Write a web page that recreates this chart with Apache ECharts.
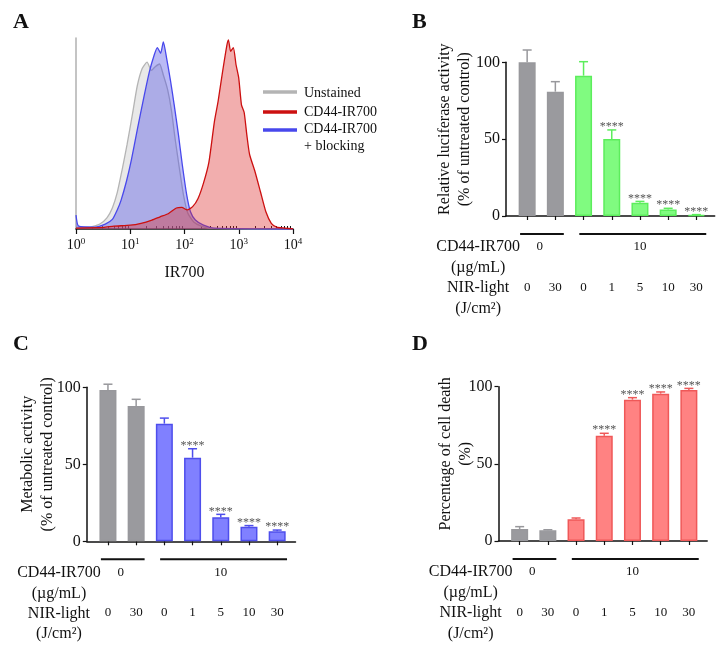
<!DOCTYPE html>
<html><head><meta charset="utf-8">
<script src="https://cdn.jsdelivr.net/npm/echarts@6/dist/echarts.min.js"></script>
<style>html,body{margin:0;padding:0;background:#fff;} #c{width:726px;height:654px;}</style>
</head><body><div id="c"></div>
<script>
const FONT = "'Liberation Serif','Times New Roman',serif";

// ---------- Panel A: flow cytometry histogram (x in log10 units) ----------
const histExponents = [0, 1, 2, 3, 4];
const minorTickRaw = [2,3,4,5,6,7,8,9,20,30,40,50,60,70,80,90,200,300,400,500,600,700,800,900,2000,3000,4000,5000,6000,7000,8000,9000];
const histXName = 'IR700';
const legendNames = ['Unstained', 'CD44-IR700', 'CD44-IR700', '+ blocking'];

const unstainedLog   = [0, 0.26, 0.44, 0.57, 0.67, 0.76, 0.85, 0.94, 1.04, 1.13, 1.22, 1.31, 1.39, 1.46, 1.54, 1.61, 1.69, 1.76, 1.83, 1.91, 1.98, 2.06, 2.17, 2.3, 2.44, 4];
const unstainedCount = [1, 1, 2.6, 5.8, 11, 19, 31, 44, 60, 75, 84, 87.4, 83, 85, 86.4, 80.6, 72.8, 62, 46.6, 31, 18, 8.4, 3.7, 1.6, 0.5, 0];

const blockingLog   = [0, 0.05, 0.35, 0.54, 0.67, 0.76, 0.83, 0.93, 1.02, 1.13, 1.24, 1.35, 1.44, 1.5, 1.56, 1.61, 1.67, 1.74, 1.81, 1.89, 1.96, 2.04, 2.11, 2.2, 2.35, 2.54, 4];
const blockingCount = [7.3, 1.5, 1, 2.6, 5, 10, 15, 25, 36, 52, 67.5, 82, 91, 95, 92, 98, 89.5, 78, 65, 49, 33.5, 18, 9, 4.7, 2, 0.5, 0];

const cd44Log   = [0, 0.5, 0.7, 1.0, 1.2, 1.4, 1.55, 1.7, 1.85, 1.95, 2.05, 2.15, 2.25, 2.35, 2.45, 2.55, 2.62, 2.7, 2.78, 2.81, 2.85, 2.9, 2.95, 3.0, 3.05, 3.1, 3.15, 3.2, 3.3, 3.4, 3.5, 3.6, 3.7, 3.85, 4];
const cd44Count = [0.5, 0.8, 1.5, 2, 3, 4.7, 6.4, 8, 11, 11.3, 10, 11.7, 16, 24, 35, 56, 67, 82, 96, 99, 93, 95, 86, 79, 65, 61, 49, 39, 30, 19.5, 9, 3, 1, 0.5, 0];

// ---------- Panels B, C, D: bar charts ----------
const nirLight = ['0', '30', '0', '1', '5', '10', '30'];   // J/cm2
const cd44Groups = ['0', '10'];                          // ug/mL
const cd44GroupPos = [0.45, 4.0];
const groupLines = [[-0.25, 1.3], [1.85, 6.35]];
const yTicks = [0, 50, 100];
const sigLabels = ['', '', '', '****', '****', '****', '****'];

const lucMean   = [100, 80.9, 91.3, 50.1, 8.7, 4.3, 0.6];
const lucSD     = [8, 6.5, 9.1, 5.9, 0.8, 0.7, 0.3];
const metMean   = [98.2, 87.9, 76.4, 54.3, 15.6, 9.5, 6.5];
const metSD     = [3.8, 4.3, 3.6, 5.8, 1.9, 0.7, 0.8];
const deathMean = [7.8, 6.9, 14.1, 68.2, 91.6, 95.5, 97.8];
const deathSD   = [1.5, 0.4, 0.8, 1.6, 1.3, 1.1, 1.1];

// styles
const GRAY_F = '#9a9a9e', GRAY_B = '#98989c';
function palette(fill, border) {
  return {
    fills: [GRAY_F, GRAY_F, fill, fill, fill, fill, fill],
    borders: [GRAY_B, GRAY_B, border, border, border, border, border]
  };
}
const palB = palette('#80fb80', '#5ced5c');
const palC = palette('#8080ff', '#4e4eec');
const palD = palette('#ff8282', '#ef5858');

const chart = echarts.init(document.getElementById('c'), null, {width: 726, height: 654});

const pairs = (xs, ys) => xs.map((x, i) => [x, ys[i]]);

function barSeries(gi, mean, pal) {
  return {
    type: 'bar', xAxisIndex: gi + 1, yAxisIndex: gi, barWidth: 17, z: 2,
    data: mean.map((v, i) => ({value: [i, v], itemStyle: {color: pal.fills[i], borderColor: pal.borders[i], borderWidth: 1.5}}))
  };
}
function errSeries(gi, mean, sd, pal) {
  return {
    type: 'custom', xAxisIndex: gi + 1, yAxisIndex: gi, clip: false, z: 3,
    data: mean.map((v, i) => [i, v, sd[i]]),
    renderItem: function (params, api) {
      const i = params.dataIndex;
      const x = api.value(0), m = api.value(1), s = api.value(2);
      const p0 = api.coord([x, m]), p1 = api.coord([x, m + s]);
      const col = pal.borders[i];
      const ch = [
        {type: 'line', shape: {x1: p0[0], y1: p0[1], x2: p1[0], y2: p1[1]}, style: {stroke: col, lineWidth: 1.5}},
        {type: 'line', shape: {x1: p1[0] - 4.5, y1: p1[1], x2: p1[0] + 4.5, y2: p1[1]}, style: {stroke: col, lineWidth: 1.5}}
      ];
      if (sigLabels[i]) ch.push({type: 'text', style: {text: sigLabels[i], x: p1[0], y: p1[1] - 3, align: 'center', verticalAlign: 'middle', fontSize: 12, fontFamily: FONT, fill: '#555'}});
      return {type: 'group', children: ch};
    }
  };
}

const barGridW = 208.7;
const grids = [
  {left: 76, top: 38, width: 217, height: 191},
  {left: 506, top: 62.3, width: barGridW, height: 153.7},
  {left: 86.8, top: 387.3, width: barGridW, height: 154},
  {left: 498.5, top: 386.7, width: barGridW, height: 154.3}
];

function barXAxis(gi) {
  return {
    type: 'value', gridIndex: gi, min: -0.75, max: 6.65, splitLine: {show: false},
    axisLine: {show: true, onZero: false, lineStyle: {color: '#111', width: 1.5}},
    axisTick: {show: true, inside: false, customValues: [0,1,2,3,4,5,6], length: 4, lineStyle: {color: '#111', width: 1.2}},
    axisLabel: {show: true, customValues: [0,1,2,3,4,5,6], formatter: v => nirLight[Math.round(v)], margin: 65, fontSize: 13, fontFamily: FONT, color: '#111'}
  };
}
function barYAxis(gi, name, gap) {
  return {
    type: 'value', gridIndex: gi, min: 0, max: 100, interval: 50, splitLine: {show: false},
    axisLine: {show: true, onZero: false, lineStyle: {color: '#111', width: 1.5}},
    axisTick: {show: true, inside: false, length: 4, lineStyle: {color: '#111', width: 1.2}},
    axisLabel: {fontSize: 16, fontFamily: FONT, color: '#111', margin: 6},
    name: name, nameLocation: 'middle', nameRotate: 90, nameGap: gap, nameMoveOverlap: false,
    nameTextStyle: {fontSize: 16, fontFamily: FONT, color: '#111', lineHeight: 20, padding: [0, 0, 0, 20]}
  };
}

const option = {
  animation: false,
  backgroundColor: '#fff',
  grid: grids,
  xAxis: [
    {type: 'value', gridIndex: 0, min: 0, max: 4, interval: 1, splitLine: {show: false},
     axisLine: {show: true, onZero: false, lineStyle: {color: '#111', width: 1.5}},
     axisTick: {show: true, length: 5, lineStyle: {color: '#111', width: 1.2}},
     axisLabel: {margin: 8, fontSize: 14, fontFamily: FONT, color: '#111',
       formatter: v => '10{s|' + histExponents[Math.round(v)] + '}',
       rich: {s: {fontSize: 9, fontFamily: FONT, color: '#111', padding: [0, 0, 8, 0]}}},
     name: histXName, nameLocation: 'middle', nameGap: 36, nameMoveOverlap: false, nameTextStyle: {fontSize: 16, fontFamily: FONT, color: '#111'}},
    {type: 'value', gridIndex: 0, min: 0, max: 4, splitLine: {show: false},
     axisLine: {show: false}, axisLabel: {show: false},
     axisTick: {show: true, customValues: minorTickRaw.map(v => Math.log10(v)), length: 3, lineStyle: {color: '#111', width: 1}}},
    barXAxis(1), barXAxis(2), barXAxis(3)
  ],
  yAxis: [
    {type: 'value', gridIndex: 0, min: 0, max: 100, splitLine: {show: false},
     axisLine: {show: true, onZero: false, lineStyle: {color: '#b0b0b0', width: 1.5}},
     axisTick: {show: false}, axisLabel: {show: false}},
    barYAxis(1, 'Relative luciferase activity\n(% of untreated control)', 31),
    barYAxis(2, 'Metabolic activity\n(% of untreated control)', 29),
    barYAxis(3, 'Percentage of cell death\n(%)', 23)
  ],
  series: [
    {type: 'line', name: 'Unstained', xAxisIndex: 0, yAxisIndex: 0, showSymbol: false, smooth: 0.2, z: 1,
     data: pairs(unstainedLog, unstainedCount), lineStyle: {color: '#b4b4b4', width: 1.3}, areaStyle: {color: 'rgba(190,190,190,0.5)'}},
    {type: 'line', name: 'CD44-IR700 + blocking', xAxisIndex: 0, yAxisIndex: 0, showSymbol: false, smooth: 0.2, z: 2,
     data: pairs(blockingLog, blockingCount), lineStyle: {color: '#4848ec', width: 1.3}, areaStyle: {color: 'rgba(75,75,228,0.55)'}},
    {type: 'line', name: 'CD44-IR700', xAxisIndex: 0, yAxisIndex: 0, showSymbol: false, smooth: 0.2, z: 3,
     data: pairs(cd44Log, cd44Count), lineStyle: {color: '#cc1010', width: 1.3}, areaStyle: {color: 'rgba(222,45,45,0.55)'}},
    barSeries(1, lucMean, palB), errSeries(1, lucMean, lucSD, palB),
    barSeries(2, metMean, palC), errSeries(2, metMean, metSD, palC),
    barSeries(3, deathMean, palD), errSeries(3, deathMean, deathSD, palD)
  ]
};
chart.setOption(option);

// ---------- annotations (positions from axes) ----------
const g = [];
const txt = (text, x, y, size, extra) => g.push({type: 'text', silent: true, style: Object.assign({text, x, y, fontSize: size, fontFamily: FONT, fill: '#111', align: 'center', verticalAlign: 'middle'}, extra || {})});

// panel letters
[['A', 13, 22], ['B', 412, 22], ['C', 13, 344], ['D', 412, 344]].forEach(l => txt(l[0], l[1], l[2], 22, {fontWeight: 'bold', align: 'left'}));

// legend A
const legColors = ['#b4b4b4', '#cc1010', '#4848ec'];
const legY = [92, 112, 130];
legColors.forEach((c, i) => g.push({type: 'line', silent: true, shape: {x1: 263, y1: legY[i], x2: 297, y2: legY[i]}, style: {stroke: c, lineWidth: 3.5}}));
const legTextY = [93, 112, 129, 146];
legendNames.forEach((n, i) => txt(n, 304, legTextY[i], 14, {align: 'left'}));

// bar panel labels
[1, 2, 3].forEach(gi => {
  const px = v => chart.convertToPixel({gridIndex: gi}, [v, 0]);
  const [c0, y0] = px(0);
  groupLines.forEach(r => g.push({type: 'line', silent: true, shape: {x1: px(r[0])[0], y1: y0 + 18, x2: px(r[1])[0], y2: y0 + 18}, style: {stroke: '#111', lineWidth: 2}}));
  cd44Groups.forEach((t, k) => txt(t, px(cd44GroupPos[k])[0], y0 + 31, 13));
  txt('CD44-IR700', c0 - 49, y0 + 31, 16);
  txt('(\u00b5g/mL)', c0 - 49, y0 + 52, 16);
  txt('NIR-light', c0 - 49, y0 + 72, 16);
  txt('(J/cm\u00b2)', c0 - 49, y0 + 92.5, 16);
});
chart.setOption({graphic: g});
</script></body></html>
